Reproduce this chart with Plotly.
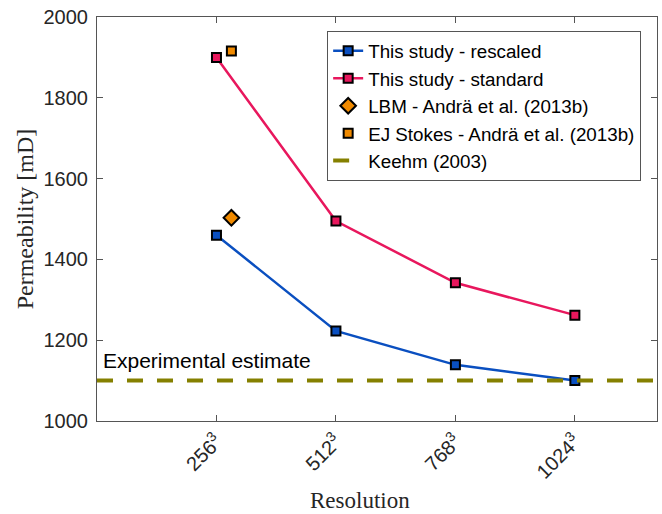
import plotly.graph_objects as go

resolutions = [256, 512, 768, 1024]
tick_labels = ["256<sup>3</sup>", "512<sup>3</sup>", "768<sup>3</sup>", "1024<sup>3</sup>"]
rescaled = [1460, 1223, 1139, 1100]
standard = [1900, 1495, 1342, 1262]
lbm_x = [288]
lbm_y = [1503]
ej_x = [288]
ej_y = [1916]
keehm_x = [0, 1200]
keehm_y = [1100, 1100]

BLUE = "#0A4FC0"
PINK = "#E8175D"
ORANGE = "#F08A00"
OLIVE = "#858000"
AX = "#262626"

fig = go.Figure()
fig.add_trace(go.Scatter(x=resolutions, y=rescaled, mode="lines+markers", name="This study - rescaled",
                         line=dict(color=BLUE, width=2.5),
                         marker=dict(symbol="square", size=9, color=BLUE, line=dict(color="black", width=2))))
fig.add_trace(go.Scatter(x=resolutions, y=standard, mode="lines+markers", name="This study - standard",
                         line=dict(color=PINK, width=2.5),
                         marker=dict(symbol="square", size=9, color=PINK, line=dict(color="black", width=2))))
fig.add_trace(go.Scatter(x=lbm_x, y=lbm_y, mode="markers", name="LBM - Andrä et al. (2013b)",
                         marker=dict(symbol="diamond", size=12, color=ORANGE, line=dict(color="black", width=2))))
fig.add_trace(go.Scatter(x=ej_x, y=ej_y, mode="markers", name="EJ Stokes - Andrä et al. (2013b)",
                         marker=dict(symbol="square", size=9, color=ORANGE, line=dict(color="black", width=2))))
fig.add_trace(go.Scatter(x=keehm_x, y=keehm_y, mode="lines", name="Keehm (2003)",
                         line=dict(color=OLIVE, width=4, dash="16px,14px")))

fig.add_annotation(x=8, y=1151, xref="x", yref="y", text="Experimental estimate",
                   showarrow=False, xanchor="left", yanchor="middle",
                   font=dict(family="Liberation Sans, Arial", size=21, color="black"))

fig.add_annotation(x=0.47, y=-0.196, xref="paper", yref="paper", text="Resolution",
                   showarrow=False, xanchor="center", yanchor="middle",
                   font=dict(family="Liberation Serif, DejaVu Serif", size=23, color=AX))
fig.add_annotation(x=-0.128, y=0.5, xref="paper", yref="paper", text="Permeability [mD]",
                   showarrow=False, xanchor="center", yanchor="middle", textangle=-90,
                   font=dict(family="Liberation Serif, DejaVu Serif", size=24, color=AX))

fig.update_layout(
    width=662, height=514,
    margin=dict(l=97, r=5, t=17, b=93, autoexpand=False),
    plot_bgcolor="white", paper_bgcolor="white",
    font=dict(family="Liberation Sans, Arial", color=AX),
    showlegend=True,
    legend=dict(x=0.411, y=0.965, xanchor="left", yanchor="top",
                bordercolor="#555555", borderwidth=1, bgcolor="white",
                font=dict(size=18.8, color="black"), tracegroupgap=0),
    xaxis=dict(range=[0, 1200], tickvals=resolutions, ticktext=tick_labels, tickangle=-45,
               showgrid=False, zeroline=False, showline=True, linecolor="#555555", linewidth=1,
               mirror="allticks", ticks="inside", ticklen=6, tickcolor="#555555",
               tickfont=dict(size=20, color=AX), automargin=False, ticklabeloverflow="allow"),
    yaxis=dict(range=[1000, 2000], tickvals=[1000, 1200, 1400, 1600, 1800, 2000],
               showgrid=False, zeroline=False, showline=True, linecolor="#555555", linewidth=1,
               mirror="allticks", ticks="inside", ticklen=6, tickcolor="#555555",
               tickfont=dict(size=20, color=AX), automargin=False, ticklabeloverflow="allow",
               ticklabelstandoff=4),
)

# remove the browser's default 8px body margin so the figure fills the window exactly
fig.write_html("out.html", config={"displayModeBar": False},
               post_script="document.body.style.margin='0';")
